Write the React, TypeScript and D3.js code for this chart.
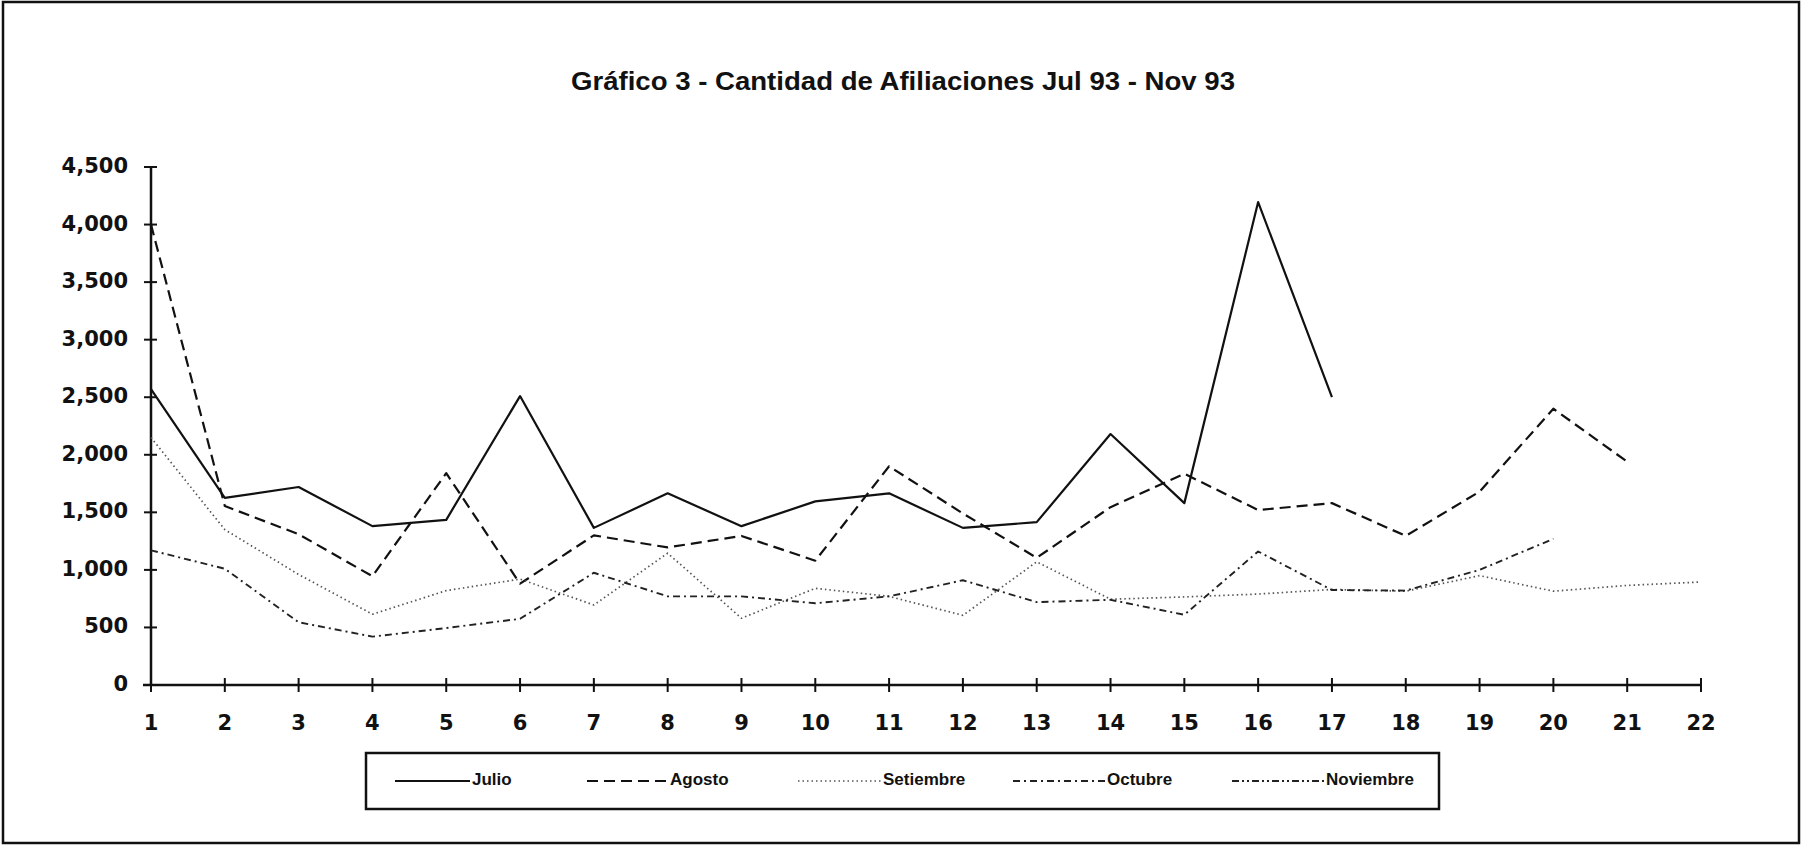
import React from 'react';
import * as d3 from 'd3';

// valores (dia habil 1..22)
const dias = d3.range(1, 23);
const yTicks = [0, 500, 1000, 1500, 2000, 2500, 3000, 3500, 4000, 4500];

const julio = [2570, 1625, 1720, 1380, 1435, 2510, 1365, 1665, 1380, 1595, 1665, 1365, 1415, 2180, 1580, 4195, 2500];
const agosto = [4000, 1555, 1310, 945, 1840, 880, 1300, 1195, 1295, 1080, 1900, 1490, 1105, 1545, 1835, 1520, 1580, 1295, 1680, 2400, 1940];
const setiembre = [2150, 1350, 960, 615, 820, 920, 695, 1145, 580, 840, 770, 605, 1070, 745, 765, 790, 830, 815, 950, 815, 865, 895];
const octubre = [1170, 1010, 545, 420, 495, 575, 975, 770, 770, 710, 770, 910, 720, 740, 610, 1160, 825, 820, 1000, 1270];
const noviembre: number[] = [];

const seriesNames = ['Julio', 'Agosto', 'Setiembre', 'Octubre', 'Noviembre'];
const seriesValues = [julio, agosto, setiembre, octubre, noviembre];

const styles = [
  { dash: 'none', width: 2.2, color: '#111' },
  { dash: '11 6', width: 2.2, color: '#111' },
  { dash: '1.5 3', width: 1.7, color: '#555' },
  { dash: '7 4 2 4', width: 1.9, color: '#222' },
  { dash: '7 3 2 3 2 3', width: 1.9, color: '#222' },
];

const App = () => {
  const width = 1805;
  const height = 846;
  const margin = { top: 167, left: 151, right: 104, bottom: 161 };

  const xScale = d3
    .scaleLinear()
    .domain([1, 22])
    .range([margin.left, width - margin.right]);

  const yScale = d3
    .scaleLinear()
    .domain([0, 4500])
    .range([height - margin.bottom, margin.top]);

  const line = d3
    .line<number>()
    .x((d, i) => xScale(i + 1))
    .y(d => yScale(d));

  const fmt = d3.format(',');
  const y0 = yScale(0);

  const legendX = [395, 587, 798, 1013, 1232];
  const legendLen = [75, 81, 83, 92, 92];
  const legendY = 781;

  return (
    <svg
      width={width}
      height={height}
      viewBox={`0 0 ${width} ${height}`}
      style={{ position: 'absolute', left: 0, top: 0, background: '#fff' }}
    >
      <rect x={3} y={2} width={1796} height={841} fill="none" stroke="#111" strokeWidth={2.5} />

      <text
        x={903}
        y={83}
        textAnchor="middle"
        dominantBaseline="middle"
        fontFamily="'Liberation Sans Narrow', 'Liberation Sans', Arial, sans-serif"
        fontWeight="bold"
        fontSize={26}
        textLength={664}
        lengthAdjust="spacingAndGlyphs"
        fill="#111"
      >
        Gráfico 3 - Cantidad de Afiliaciones Jul 93 - Nov 93
      </text>

      {/* eje y */}
      <line x1={xScale(1)} x2={xScale(1)} y1={yScale(4500)} y2={y0} stroke="#111" strokeWidth={2.5} />
      {yTicks.map(t => (
        <g key={`yt-${t}`}>
          <line x1={xScale(1) - 7} x2={xScale(1) + 6} y1={yScale(t)} y2={yScale(t)} stroke="#111" strokeWidth={2} />
          <text
            x={128}
            y={yScale(t)}
            textAnchor="end"
            dominantBaseline="middle"
            fontFamily="'DejaVu Sans', sans-serif"
            fontWeight="bold"
            fontSize={21}
            fill="#111"
          >
            {fmt(t)}
          </text>
        </g>
      ))}

      {/* eje x */}
      <line x1={xScale(1) - 8} x2={xScale(22)} y1={y0} y2={y0} stroke="#111" strokeWidth={2.5} />
      {dias.map(d => (
        <g key={`xt-${d}`}>
          <line x1={xScale(d)} x2={xScale(d)} y1={y0 - 7} y2={y0 + 7} stroke="#111" strokeWidth={2} />
          <text
            x={xScale(d)}
            y={724}
            textAnchor="middle"
            dominantBaseline="middle"
            fontFamily="'DejaVu Sans', sans-serif"
            fontWeight="bold"
            fontSize={21}
            fill="#111"
          >
            {d}
          </text>
        </g>
      ))}

      {/* series */}
      {seriesValues.map((vals, i) =>
        vals.length > 1 ? (
          <path
            key={`s-${i}`}
            d={line(vals) || ''}
            fill="none"
            stroke={styles[i].color}
            strokeWidth={styles[i].width}
            strokeDasharray={styles[i].dash}
            strokeLinejoin="round"
          />
        ) : null
      )}

      {/* leyenda */}
      <rect x={366} y={753} width={1073} height={56} fill="#fff" stroke="#111" strokeWidth={2.5} />
      {seriesNames.map((name, i) => (
        <g key={`lg-${name}`}>
          <line
            x1={legendX[i]}
            x2={legendX[i] + legendLen[i]}
            y1={legendY}
            y2={legendY}
            stroke={styles[i].color}
            strokeWidth={styles[i].width}
            strokeDasharray={styles[i].dash}
          />
          <text
            x={legendX[i] + legendLen[i] + 2}
            y={legendY}
            dominantBaseline="middle"
            fontFamily="'Liberation Sans Narrow', 'Liberation Sans', Arial, sans-serif"
            fontWeight="bold"
            fontSize={17}
            fill="#111"
          >
            {name}
          </text>
        </g>
      ))}
    </svg>
  );
};

export default App;
